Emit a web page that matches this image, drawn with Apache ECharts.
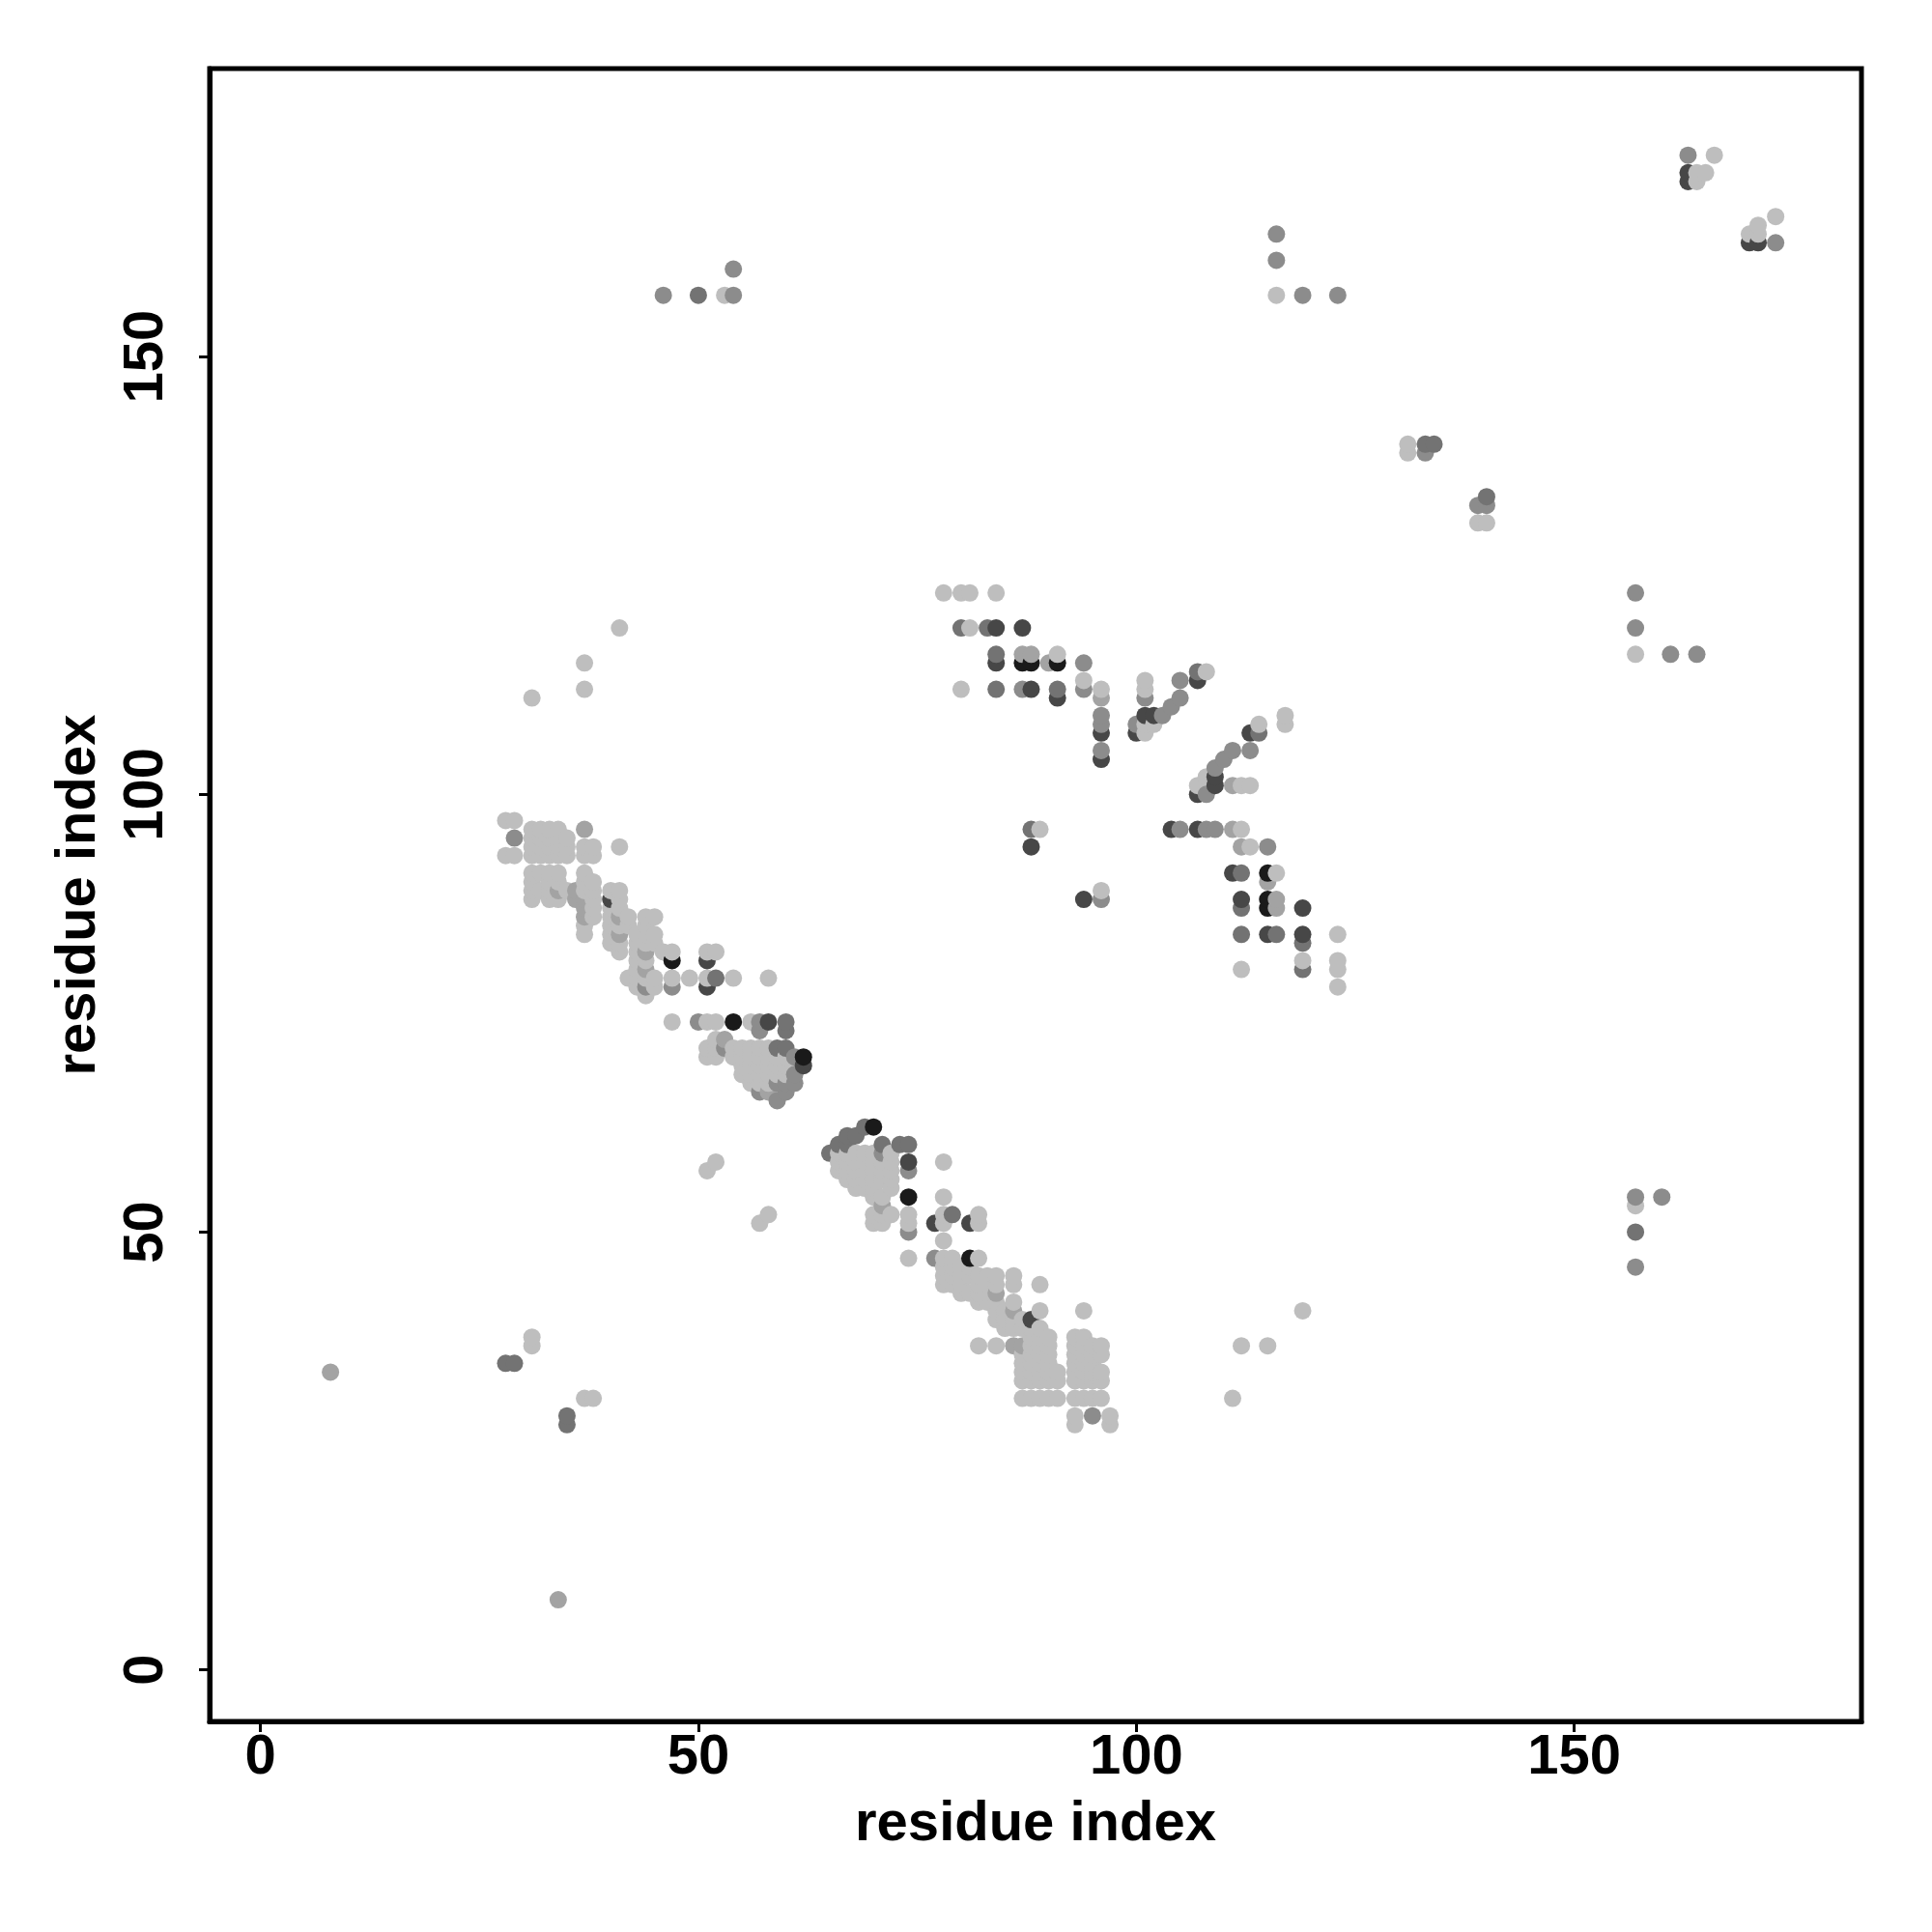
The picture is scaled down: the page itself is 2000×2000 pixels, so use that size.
<!DOCTYPE html>
<html>
<head>
<meta charset="utf-8">
<script src="https://cdn.jsdelivr.net/npm/echarts@6/dist/echarts.min.js"></script>
<style>
html,body{margin:0;padding:0;background:#fff;}
#chart{width:2000px;height:2000px;}
</style>
</head>
<body>
<div id="chart"></div>
<script>
// Tick labels
const xTicks = [0, 50, 100, 150];
const yTicks = [0, 50, 100, 150];

// Contacts grouped by grey shade (lightest -> darkest): [i, j]
const shade1 = [
  [31,38],[31,37],[37,31],[38,31],[53,157],[166,173],[164,171],[165,171],[164,170],[173,166],[171,165],[170,164],[171,164],
  [131,140],[131,139],[139,131],[140,131],[116,157],[157,116],[157,53],[119,41],[112,37],[115,37],[111,31],
  [51,57],[52,58],[57,51],[58,52],[31,111],[37,115],[37,112],[41,119],[41,94],
  [78,123],[80,123],[81,123],[84,123],[81,119],[91,116],[80,112],[94,113],[96,112],[101,113],[101,112],[101,108],[101,107],[102,108],[108,114],
  [114,108],[117,109],[117,108],[108,102],[107,101],[112,101],[113,101],[112,96],[113,94],[116,91],[112,80],[119,81],[123,84],[123,81],[123,80],[123,78],[89,96],[96,89],
  [28,97],[29,97],
  [31,96],[32,96],[33,96],[34,96],
  [31,95],[32,95],[33,95],[34,95],[35,95],
  [31,94],[32,94],[33,94],[34,94],[35,94],[37,94],[38,94],
  [28,93],[29,93],[31,93],[32,93],[33,93],[34,93],[35,93],[37,93],[38,93],
  [31,91],[32,91],[33,91],[34,91],[37,91],
  [31,90],[33,90],[34,90],[37,90],[38,90],
  [31,89],[32,89],[33,89],[35,89],[37,89],[38,89],[40,89],[41,89],
  [31,88],[33,88],[34,88],[38,88],[41,88],
  [38,87],[40,87],[41,87],
  [38,86],[40,86],[42,86],[44,86],[45,86],
  [37,85],[40,85],[41,85],[42,85],[44,85],
  [37,84],[40,84],[43,84],[44,84],[45,84],
  [40,83],[41,83],[43,83],[44,83],[45,83],
  [41,82],[43,82],[46,82],[47,82],[51,82],[52,82],
  [43,81],[44,81],[43,80],
  [42,79],[43,79],[44,79],[45,79],[47,79],[49,79],[51,79],[54,79],[58,79],
  [43,78],[45,78],[44,77],
  [47,74],[51,74],[52,74],[56,74],[52,72],
  [51,71],[52,71],[54,71],[55,71],[56,71],[57,71],[58,71],
  [51,70],[52,70],[54,70],[55,70],[56,70],[57,70],[58,70],[59,70],[60,70],
  [55,69],[56,69],[57,69],[58,69],[59,69],[60,69],
  [55,68],[56,68],[57,68],[58,68],[59,68],[60,68],
  [56,67],[57,67],[58,67],
  [66,59],[67,59],[68,59],[69,59],[70,59],[72,59],
  [66,58],[67,58],[68,58],[69,58],[70,58],[71,58],[72,58],[78,58],
  [66,57],[67,57],[68,57],[69,57],[70,57],[71,57],[72,57],
  [67,56],[68,56],[69,56],[70,56],[71,56],[72,56],
  [68,55],[69,55],[70,55],[72,55],
  [70,54],[71,54],[78,54],
  [70,52],[71,52],[72,52],[74,52],[78,52],[82,52],
  [70,51],[71,51],[74,51],[78,51],[82,51],
  [78,49],
  [74,47],[78,47],[79,47],[82,47],
  [78,46],[79,46],[80,46],[81,46],
  [78,45],[79,45],[80,45],[81,45],[82,45],[83,45],[84,45],[86,45],
  [78,44],[79,44],[80,44],[82,44],[83,44],[84,44],[86,44],[89,44],
  [80,43],[81,43],[82,43],[83,43],
  [82,42],[83,42],[84,42],[86,42],
  [84,41],[85,41],[89,41],[94,41],
  [84,40],[85,40],[86,40],[87,40],
  [85,39],[86,39],[87,39],[88,39],[89,39],
  [88,38],[89,38],[90,38],[93,38],[94,38],
  [82,37],[84,37],[88,37],[89,37],[90,37],[93,37],[94,37],[95,37],[96,37],
  [87,36],[88,36],[89,36],[90,36],[93,36],[94,36],[95,36],[96,36],
  [87,35],[88,35],[89,35],[90,35],[93,35],[94,35],[95,35],
  [87,34],[88,34],[89,34],[90,34],[91,34],[93,34],[94,34],[95,34],[96,34],
  [87,33],[88,33],[89,33],[90,33],[91,33],[93,33],[94,33],[95,33],[96,33],
  [87,31],[88,31],[89,31],[90,31],[91,31],[93,31],[94,31],[95,31],[96,31],
  [93,29],[97,29],[93,28],[97,28]
];
const shade2 = [
  [8,34],[34,8],[37,96],[34,89],[36,89],[36,88],[37,88],[37,87],[37,86],[41,86],[41,84],[44,82],[44,80],
  [87,116],[88,116],[90,115],[96,111],[111,101],[111,96],[112,94],[115,90],[116,88],[116,87],
  [53,72],[58,66],[71,53],[86,41],[86,37],[87,37],[84,43]
];
const shade3 = [
  [46,157],[54,157],[54,160],[163,173],[173,163],[133,139],[139,133],[140,133],[116,164],[116,161],[119,157],[123,157],
  [157,123],[157,119],[161,116],[164,116],[157,54],[160,54],[157,46],
  [29,95],[44,78],[47,78],[50,74],[57,74],[57,73],[53,71],[61,70],[61,68],[59,67],[60,67],[61,67],[57,66],[60,66],[59,65],
  [71,59],[74,57],[74,50],[77,47],
  [94,115],[87,112],[94,112],[96,109],[96,108],[96,105],[101,111],[100,108],[103,109],[105,113],[105,111],[104,110],
  [110,104],[109,103],[111,105],[113,105],[108,100],[105,96],[108,96],[109,96],[115,94],[96,88],[95,29]
];
const shade4 = [
  [50,157],[28,35],[29,35],[35,29],[35,28],[133,140],[134,140],[140,134],[157,50],
  [52,79],[59,71],[60,71],[60,74],[60,73],[69,62],[67,61],[68,61],[66,60],[67,60],[71,60],[73,60],[74,60],[65,59],[79,52],
  [80,119],[83,119],[84,116],[84,112],[91,112],[107,114],[114,107],[112,91],[112,87],[112,84],[116,84],[119,83],[119,80],[88,96]
];
const shade5 = [
  [163,171],[163,170],[170,163],[171,163],
  [51,81],[51,78],[58,74],[62,69],[74,58],[77,51],[81,51],[88,40],[40,88],
  [84,119],[87,119],[84,115],[88,112],[91,111],[96,107],[96,104],[100,107],[101,109],[102,109],[107,113],[113,107],
  [109,102],[109,101],[107,100],[104,96],[107,96],[111,91],[112,88],[119,87],[115,84],[119,84],[88,94],[94,88]
];
const shade6 = [
  [47,81],[54,74],[62,70],[70,62],[74,54],[81,47],[87,115],[88,115],[91,115],[115,91],[115,88],[115,87]
];

const shadeColors = ['#bebebe', '#a3a3a3', '#8c8c8c', '#737373', '#474747', '#1a1a1a'];

const points = [];
[shade1, shade2, shade3, shade4, shade5, shade6].forEach(function (arr, k) {
  arr.forEach(function (p) { points.push([p[0], p[1], k]); });
});
points.sort(function (a, b) { return a[0] - b[0] || a[1] - b[1]; });

const font = 'Liberation Sans, Arial, Helvetica, sans-serif';
const chart = echarts.init(document.getElementById('chart'), null, { renderer: 'canvas' });
chart.setOption({
  animation: false,
  backgroundColor: '#ffffff',
  grid: { left: 217, top: 71, right: 73, bottom: 218, show: true, borderColor: '#000', borderWidth: 5, backgroundColor: 'transparent' },
  xAxis: {
    type: 'value', min: -5.8, max: 182.8,
    splitLine: { show: false },
    axisLine: { show: true, onZero: false, lineStyle: { color: '#000', width: 5 } },
    axisTick: { show: true, customValues: xTicks, length: 11, lineStyle: { color: '#000', width: 3 } },
    axisLabel: { customValues: xTicks, fontSize: 58, fontWeight: 'bold', color: '#000', margin: 9, fontFamily: font },
    name: 'residue index', nameLocation: 'middle', nameGap: 78,
    nameTextStyle: { fontSize: 58, fontWeight: 'bold', color: '#000', fontFamily: font }
  },
  yAxis: {
    type: 'value', min: -5.9, max: 182.9,
    splitLine: { show: false },
    axisLine: { show: true, onZero: false, lineStyle: { color: '#000', width: 5 } },
    axisTick: { show: true, customValues: yTicks, length: 11, lineStyle: { color: '#000', width: 3 } },
    axisLabel: { customValues: yTicks, rotate: 90, fontSize: 58, fontWeight: 'bold', color: '#000', margin: 36, fontFamily: font },
    name: 'residue index', nameLocation: 'middle', nameGap: 106,
    nameTextStyle: { fontSize: 58, fontWeight: 'bold', color: '#000', fontFamily: font }
  },
  series: [{
    type: 'scatter',
    data: points,
    symbol: 'circle',
    symbolSize: 18,
    itemStyle: { color: function (p) { return shadeColors[p.value[2]]; }, opacity: 1 },
    emphasis: { disabled: true }
  }]
});
</script>
</body>
</html>
